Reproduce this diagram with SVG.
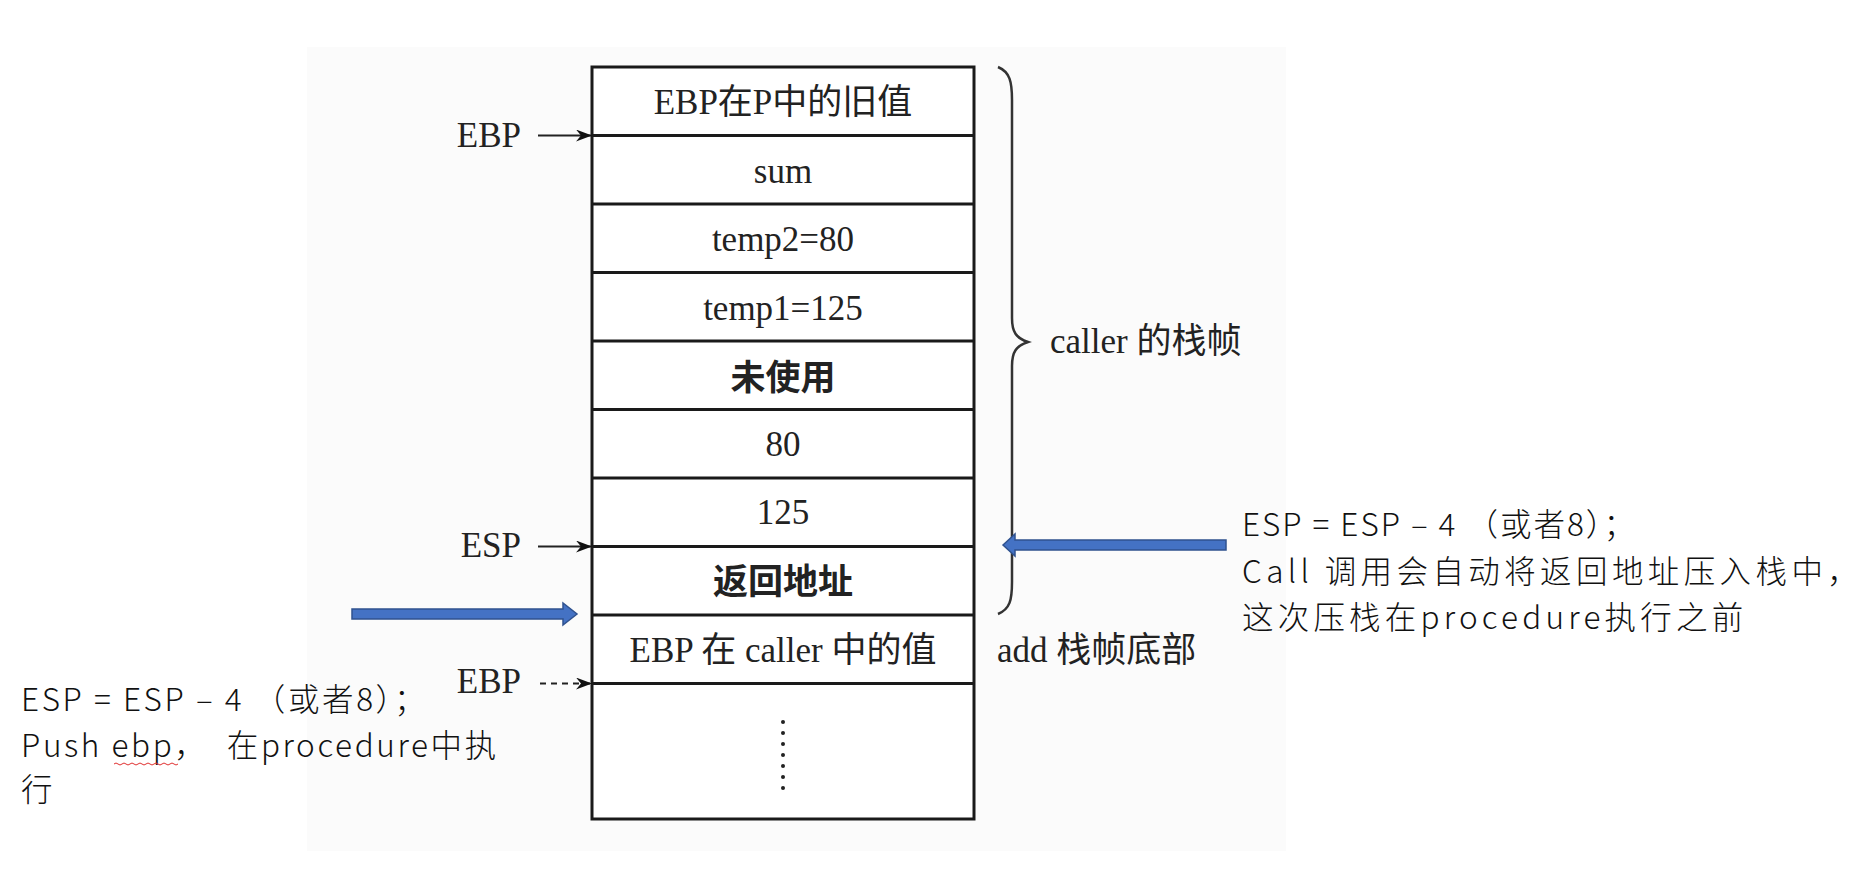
<svg xmlns="http://www.w3.org/2000/svg" width="1867" height="886" viewBox="0 0 1867 886">
  <style>
    .book { font-family: "Liberation Serif", "Noto Sans CJK SC", serif; font-size: 35px; fill: #222; }
    .cell { text-anchor: middle; }
    .reg { text-anchor: end; }
    .note { font-family: "Noto Sans CJK SC", sans-serif; font-weight: 300; font-size: 31.5px; fill: #111; white-space: pre; }
    .frame { fill: #fff; stroke: #1a1a1a; stroke-width: 3; }
    .sep { stroke: #1a1a1a; stroke-width: 3; }
    .ptr { stroke: #222; stroke-width: 2; fill: none; }
    .blue { fill: #4472c4; stroke: #2f528f; stroke-width: 1.5; }
  </style>
  <defs>
    <marker id="head" viewBox="0 0 16 12" refX="15" refY="6" markerWidth="16" markerHeight="12" markerUnits="userSpaceOnUse" orient="auto">
      <path d="M0,0 L16,6 L0,12 L5,6 Z" fill="#111"/>
    </marker>
  </defs>

  <rect width="1867" height="886" fill="#fff"/>
  <!-- scanned page backdrop -->
  <rect x="307" y="47" width="979" height="804" fill="#fbfbfb"/>

  <!-- stack frame -->
  <g id="stack">
    <rect class="frame" x="592" y="67" width="382" height="752"/>
    <line class="sep" x1="592" y1="135.5" x2="974" y2="135.5"/>
    <line class="sep" x1="592" y1="204" x2="974" y2="204"/>
    <line class="sep" x1="592" y1="272.5" x2="974" y2="272.5"/>
    <line class="sep" x1="592" y1="341" x2="974" y2="341"/>
    <line class="sep" x1="592" y1="409.5" x2="974" y2="409.5"/>
    <line class="sep" x1="592" y1="478" x2="974" y2="478"/>
    <line class="sep" x1="592" y1="546.5" x2="974" y2="546.5"/>
    <line class="sep" x1="592" y1="615" x2="974" y2="615"/>
    <line class="sep" x1="592" y1="683.5" x2="974" y2="683.5"/>
  </g>
  <g id="cell-old-ebp"><text class="book cell" x="783" y="114">EBP在P中的旧值</text></g>
  <g id="cell-sum"><text class="book cell" x="783" y="183">sum</text></g>
  <g id="cell-temp2"><text class="book cell" x="783" y="251">temp2=80</text></g>
  <g id="cell-temp1"><text class="book cell" x="783" y="320">temp1=125</text></g>
  <g id="cell-unused"><text class="book cell" x="783" y="390" font-weight="bold">未使用</text></g>
  <g id="cell-80"><text class="book cell" x="783" y="456">80</text></g>
  <g id="cell-125"><text class="book cell" x="783" y="524">125</text></g>
  <g id="cell-ret"><text class="book cell" x="783" y="594" font-weight="bold">返回地址</text></g>
  <g id="cell-caller-ebp"><text class="book cell" x="783" y="662">EBP 在 caller 中的值</text></g>
  <g id="cell-more" fill="#222">
    <circle cx="783" cy="722" r="2"/>
    <circle cx="783" cy="733" r="2"/>
    <circle cx="783" cy="744" r="2"/>
    <circle cx="783" cy="755" r="2"/>
    <circle cx="783" cy="766" r="2"/>
    <circle cx="783" cy="777" r="2"/>
    <circle cx="783" cy="788" r="2"/>
  </g>

  <!-- register labels -->
  <g id="reg-ebp-top"><text class="book reg" x="521" y="147">EBP</text></g>
  <g id="reg-esp"><text class="book reg" x="521" y="557">ESP</text></g>
  <g id="reg-ebp-bottom"><text class="book reg" x="521" y="693">EBP</text></g>

  <!-- brace and frame captions -->
  <g id="caller-frame">
    <path d="M998,67 C1010,72 1012,82 1012,100 L1012,318 C1012,332 1016,338 1028,342 C1016,346 1012,352 1012,366 L1012,582 C1012,600 1010,609 998,614" fill="none" stroke="#333" stroke-width="2.5"/>
    <text class="book" x="1050" y="353">caller 的栈帧</text>
  </g>
  <g id="add-frame"><text class="book" x="997" y="662">add 栈帧底部</text></g>

  <!-- notes -->
  <g id="note-call">
    <text class="note" x="1242" y="536" letter-spacing="2">ESP = ESP – 4 （或者8）；</text>
    <text class="note" x="1242" y="583" letter-spacing="4.4">Call 调用会自动将返回地址压入栈中，</text>
    <text class="note" x="1242" y="629" letter-spacing="4.2">这次压栈在procedure执行之前</text>
  </g>
  <g id="note-push">
    <text class="note" x="21" y="711" letter-spacing="2.6">ESP = ESP – 4 （或者8）；</text>
    <text class="note" x="21" y="757" letter-spacing="2.6">Push ebp，　在procedure中执</text>
    <text class="note" x="21" y="801">行</text>
    <path d="M114,764 q2,-2 4,0 t4,0 t4,0 t4,0 t4,0 t4,0 t4,0 t4,0 t4,0 t4,0 t4,0 t4,0 t4,0 t4,0 t4,0 t4,0" fill="none" stroke="#e03030" stroke-width="1"/>
  </g>

  <!-- connectors -->
  <g id="connectors">
    <line class="ptr" x1="538" y1="135.5" x2="591" y2="135.5" marker-end="url(#head)"/>
    <line class="ptr" x1="538" y1="546.5" x2="591" y2="546.5" marker-end="url(#head)"/>
    <line class="ptr" x1="540" y1="683.5" x2="591" y2="683.5" stroke-dasharray="6 5" marker-end="url(#head)"/>
    <polygon class="blue" points="1003,545 1015,534 1015,540 1226,540 1226,550 1015,550 1015,556"/>
    <polygon class="blue" points="352,609 563,609 563,603 577,614 563,625 563,619 352,619"/>
  </g>
</svg>
